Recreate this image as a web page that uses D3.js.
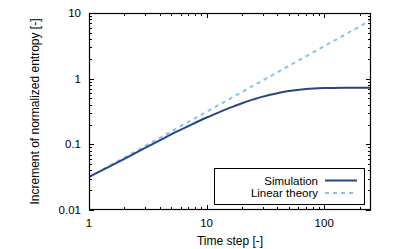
<!DOCTYPE html>
<html><head><meta charset="utf-8">
<script src="https://cdn.jsdelivr.net/npm/d3@7"></script>
<style>body{margin:0;background:#fff;}svg{display:block;}text{font-family:"Liberation Sans",Arial,sans-serif;}</style>
</head><body>
<script>
const simX = [1, 1.5, 2, 3, 4, 5, 7, 10, 13, 17, 20, 25, 30, 40, 50, 70, 100, 150, 200, 250];
const simY = [0.032, 0.046, 0.060, 0.088, 0.115, 0.142, 0.19, 0.256, 0.312, 0.378, 0.423, 0.483, 0.533, 0.60, 0.648, 0.697, 0.72, 0.729, 0.73, 0.73];
const linX = [1, 250];
const linY = [0.0315, 7.8];
const xTicks = [1, 10, 100];
const xTickLabels = ["1", "10", "100"];
const yTicks = [0.01, 0.1, 1, 10];
const yTickLabels = ["0.01", "0.1", "1", "10"];
const seriesNames = ["Simulation", "Linear theory"];

const W = 415, H = 249;
const L = 89, R = 371, T = 13, B = 210;
const svg = d3.select("body").append("svg").attr("width", W).attr("height", H);
const x = d3.scaleLog().domain([1, 250]).range([L, R]);
const y = d3.scaleLog().domain([0.01, 10]).range([B, T]);

const xMinor = [];
for (let d = 1; d <= 100; d *= 10) for (let k = 2; k <= 9; k++) if (d * k <= 250) xMinor.push(d * k);
const yMinor = [];
for (let d = 0.01; d < 10; d *= 10) for (let k = 2; k <= 9; k++) yMinor.push(d * k);

const g = svg.append("g").attr("stroke", "#000").attr("stroke-width", 1);
const majLen = 5, minLen = 3;
xTicks.forEach(v => {
  const px = Math.round(x(v)) + 0.5;
  g.append("line").attr("x1", px).attr("x2", px).attr("y1", B).attr("y2", B - majLen);
  g.append("line").attr("x1", px).attr("x2", px).attr("y1", T).attr("y2", T + majLen);
});
xMinor.forEach(v => {
  const px = Math.round(x(v)) + 0.5;
  g.append("line").attr("x1", px).attr("x2", px).attr("y1", B).attr("y2", B - minLen);
  g.append("line").attr("x1", px).attr("x2", px).attr("y1", T).attr("y2", T + minLen);
});
yTicks.forEach(v => {
  const py = Math.round(y(v)) + 0.5;
  g.append("line").attr("x1", L).attr("x2", L + majLen).attr("y1", py).attr("y2", py);
  g.append("line").attr("x1", R).attr("x2", R - majLen).attr("y1", py).attr("y2", py);
});
yMinor.forEach(v => {
  const py = Math.round(y(v)) + 0.5;
  g.append("line").attr("x1", L).attr("x2", L + minLen).attr("y1", py).attr("y2", py);
  g.append("line").attr("x1", R).attr("x2", R - minLen).attr("y1", py).attr("y2", py);
});

svg.append("clipPath").attr("id", "c").append("rect").attr("x", L).attr("y", T).attr("width", R - L).attr("height", B - T);
const line = d3.line().x(d => x(d[0])).y(d => y(d[1])).curve(d3.curveCatmullRom.alpha(0.5));
svg.append("path").attr("clip-path", "url(#c)")
  .datum(linX.map((v, i) => [v, linY[i]]))
  .attr("d", d3.line().x(d => x(d[0])).y(d => y(d[1])))
  .attr("fill", "none").attr("stroke", "#86c3ef").attr("stroke-width", 2).attr("stroke-dasharray", "4,4");
svg.append("path").attr("clip-path", "url(#c)")
  .datum(simX.map((v, i) => [v, simY[i]]))
  .attr("d", line)
  .attr("fill", "none").attr("stroke", "#2a4682").attr("stroke-width", 2);

svg.append("rect").attr("x", L + 0.5).attr("y", T + 0.5).attr("width", R - L - 1).attr("height", B - T - 1)
  .attr("fill", "none").attr("stroke", "#000").attr("stroke-width", 1.2);

xTicks.forEach((v, i) => svg.append("text").attr("x", x(v)).attr("y", 227).attr("text-anchor", "middle")
  .attr("font-size", 11.5).text(xTickLabels[i]));
yTicks.forEach((v, i) => svg.append("text").attr("x", 81).attr("y", y(v) + 4).attr("text-anchor", "end")
  .attr("font-size", 11.5).text(yTickLabels[i]));
svg.append("text").attr("x", (L + R) / 2).attr("y", 245).attr("text-anchor", "middle").attr("font-size", 12).text("Time step [-]");
svg.append("text").attr("transform", `translate(39,${(T + B) / 2}) rotate(-90)`).attr("text-anchor", "middle")
  .attr("font-size", 12).text("Increment of normalized entropy [-]");

svg.append("rect").attr("x", 214.5).attr("y", 168.5).attr("width", 150).attr("height", 36)
  .attr("fill", "#fff").attr("stroke", "#000").attr("stroke-width", 1);
const ly = [180.5, 193];
const lstyles = [{c: "#2a4682", d: null}, {c: "#86c3ef", d: "4,4"}];
seriesNames.forEach((n, i) => {
  svg.append("text").attr("x", 318).attr("y", ly[i] + 4).attr("text-anchor", "end").attr("font-size", 11.5).text(n);
  const l = svg.append("line").attr("x1", 325).attr("x2", 357).attr("y1", ly[i]).attr("y2", ly[i])
    .attr("stroke", lstyles[i].c).attr("stroke-width", 2);
  if (lstyles[i].d) l.attr("stroke-dasharray", lstyles[i].d);
});
</script>
</body></html>
